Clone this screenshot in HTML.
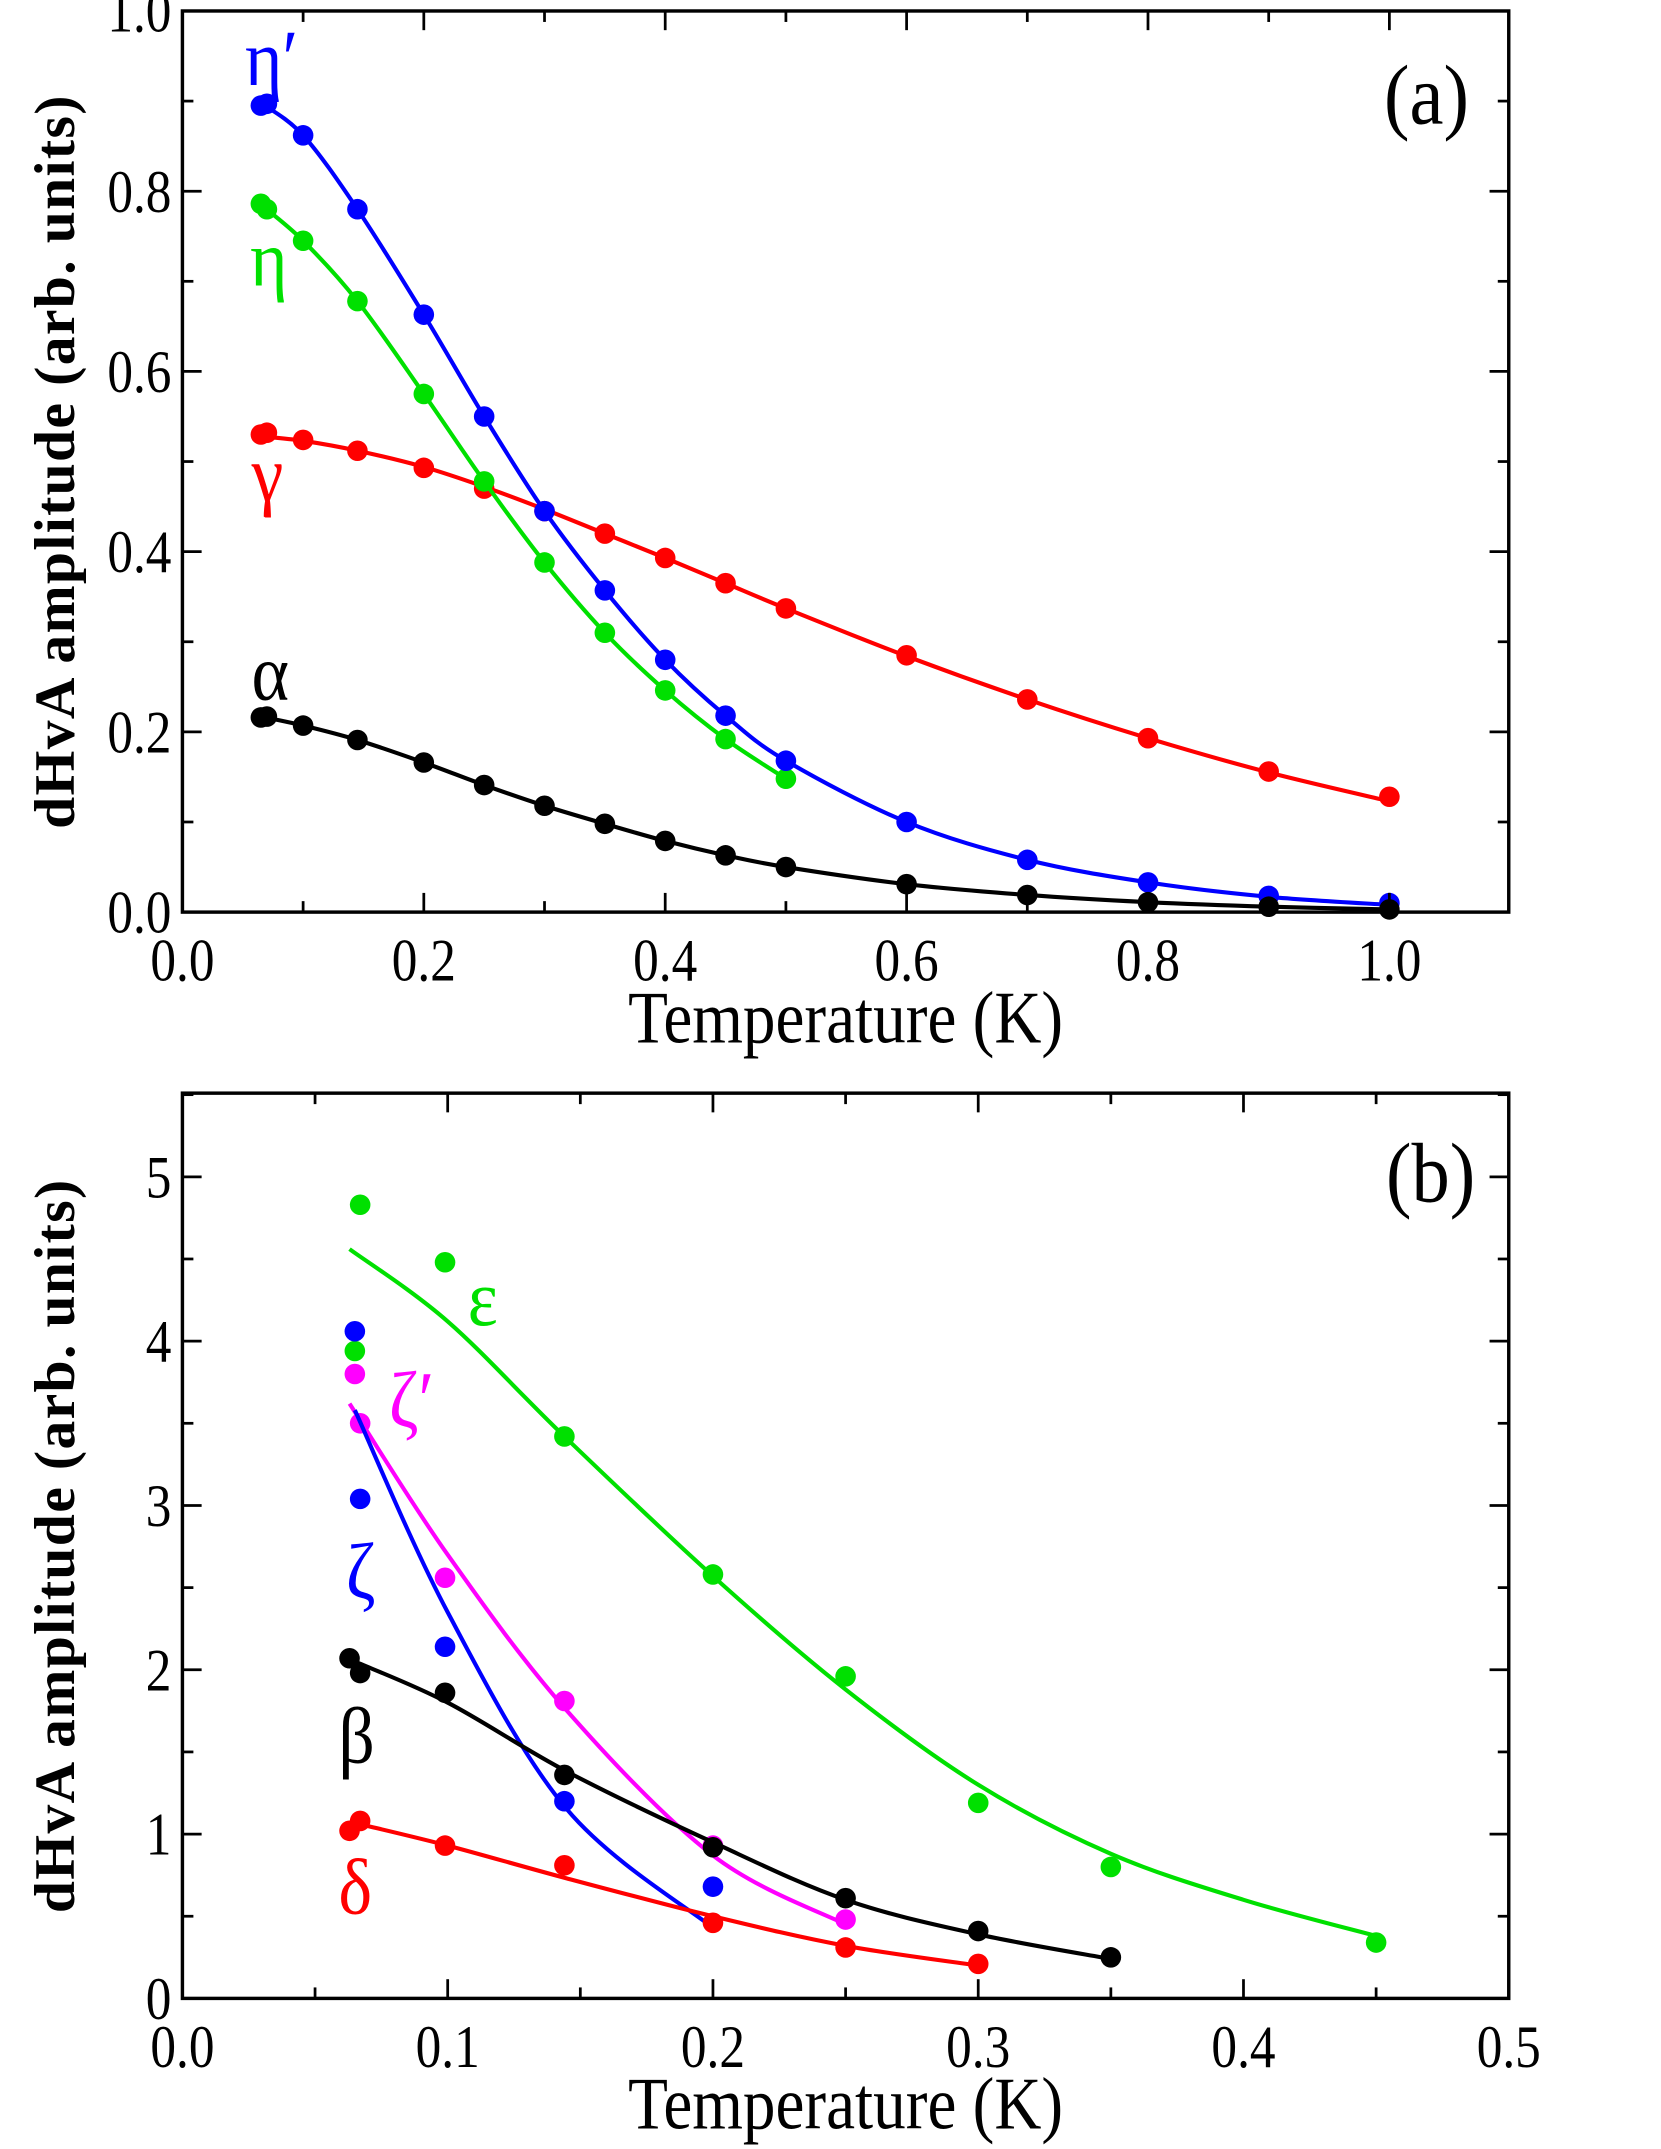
<!DOCTYPE html>
<html><head><meta charset="utf-8"><style>html,body{margin:0;padding:0;background:#fff}svg{display:block}</style></head>
<body>
<svg id="s" width="1661" height="2149" viewBox="0 0 1211 1566.8" preserveAspectRatio="none" xmlns="http://www.w3.org/2000/svg" font-family="Liberation Serif, serif"></svg>
<script>
const S=document.getElementById('s');let h='';
function txt(x,y,t,size,col,anchor,sx,extra){sx=sx||0.85;h+=`<text transform="translate(${x},${y}) scale(${sx},1)" font-size="${size}" fill="${col||'#000'}" text-anchor="${anchor||'middle'}" ${extra||''}>${t}</text>`;}
function spline(pts){let d=`M${pts[0][0]},${pts[0][1]}`;for(let i=0;i<pts.length-1;i++){const p0=pts[i-1]||pts[i],p1=pts[i],p2=pts[i+1],p3=pts[i+2]||p2;const c1=[p1[0]+(p2[0]-p0[0])/6,p1[1]+(p2[1]-p0[1])/6],c2=[p2[0]-(p3[0]-p1[0])/6,p2[1]-(p3[1]-p1[1])/6];d+=`C${c1[0]},${c1[1]} ${c2[0]},${c2[1]} ${p2[0]},${p2[1]}`;}return d;}
function panel(P){
 const X=v=>P.x0+(v-P.xmin)/(P.xmax-P.xmin)*(P.x1-P.x0), Y=v=>P.y1-(v-P.ymin)/(P.ymax-P.ymin)*(P.y1-P.y0);
 for(const s of P.series){
  h+=`<path d="${spline(s.line.map(p=>[X(p[0]),Y(p[1])]))}" fill="none" stroke="${s.c}" stroke-width="3"/>`;
  for(const p of s.pts)h+=`<circle cx="${X(p[0])}" cy="${Y(p[1])}" r="7.5" fill="${s.c}"/>`;
 }
 for(let v=P.xmin;v<=P.xmax+1e-9;v+=P.xminor){const x=X(v);const maj=Math.abs(Math.round(v/P.xmajor)*P.xmajor-v)<1e-6;const L=maj?14:8;
  h+=`<line x1="${x}" y1="${P.y1}" x2="${x}" y2="${P.y1-L}" stroke="#000" stroke-width="2"/><line x1="${x}" y1="${P.y0}" x2="${x}" y2="${P.y0+L}" stroke="#000" stroke-width="2"/>`;
  if(maj&&v<=P.xlabmax+1e-9)txt(x,P.y1+50,v.toFixed(1),44);}
 for(let v=P.ymin;v<=P.ymax+1e-9;v+=P.yminor){const y=Y(v);const maj=Math.abs(Math.round(v/P.ymajor)*P.ymajor-v)<1e-6;const L=maj?14:8;
  h+=`<line x1="${P.x0}" y1="${y}" x2="${P.x0+L}" y2="${y}" stroke="#000" stroke-width="2"/><line x1="${P.x1}" y1="${y}" x2="${P.x1-L}" y2="${y}" stroke="#000" stroke-width="2"/>`;
  if(maj&&v<=P.ylabmax+1e-9)txt(P.x0-8,y+15,P.yfmt(v),44,'#000','end');}
 h+=`<rect x="${P.x0}" y="${P.y0}" width="${P.x1-P.x0}" height="${P.y1-P.y0}" fill="none" stroke="#000" stroke-width="2.5"/>`;
 txt((P.x0+P.x1)/2,P.y1+95,'Temperature (K)',54,'#000','middle',0.88);
 h+=`<text transform="translate(54,${(P.y0+P.y1)/2}) rotate(-90)" font-size="42" font-weight="bold" text-anchor="middle" letter-spacing="1" font-family="Liberation Serif, serif">dHvA amplitude (arb. units)</text>`;
 for(const l of P.labels)txt(l[0],l[1],l[2],l[4]||58,l[3],'middle',0.9);
}
panel({x0:133,x1:1100,y0:8,y1:665,xmin:0,xmax:1.0989,ymin:0,ymax:1,xminor:0.1,xmajor:0.2,yminor:0.1,ymajor:0.2,xlabmax:1.0,ylabmax:1.0,yfmt:v=>v.toFixed(1),
 series:[
 {c:'#ff0000',pts:[[.065,.53],[.07,.532],[.1,.524],[.145,.512],[.2,.493],[.25,.47],[.3,.445],[.35,.42],[.4,.393],[.45,.365],[.5,.337],[.6,.285],[.7,.236],[.8,.193],[.9,.156],[1,.128]],line:[[.065,.528],[.1,.523],[.145,.512],[.2,.494],[.25,.472],[.3,.447],[.35,.42],[.4,.393],[.45,.365],[.5,.337],[.6,.284],[.7,.236],[.8,.193],[.9,.155],[1,.123]]},
 {c:'#00e000',pts:[[.065,.786],[.07,.78],[.1,.745],[.145,.678],[.2,.575],[.25,.478],[.3,.388],[.35,.31],[.4,.246],[.45,.192],[.5,.148]],line:[[.065,.785],[.1,.745],[.145,.678],[.2,.575],[.25,.478],[.3,.388],[.35,.31],[.4,.246],[.45,.192],[.5,.148]]},
 {c:'#0000ff',pts:[[.065,.895],[.07,.897],[.1,.862],[.145,.78],[.2,.663],[.25,.55],[.3,.445],[.35,.357],[.4,.28],[.45,.218],[.5,.168],[.6,.1],[.7,.058],[.8,.033],[.9,.018],[1,.01]],line:[[.065,.898],[.1,.862],[.145,.78],[.2,.663],[.25,.55],[.3,.445],[.35,.357],[.4,.28],[.45,.218],[.5,.168],[.6,.1],[.7,.058],[.8,.033],[.9,.017],[1,.008]]},
 {c:'#000000',pts:[[.065,.216],[.07,.217],[.1,.207],[.145,.191],[.2,.166],[.25,.141],[.3,.118],[.35,.098],[.4,.079],[.45,.063],[.5,.05],[.6,.031],[.7,.019],[.8,.011],[.9,.006],[1,.003]],line:[[.065,.217],[.1,.207],[.145,.191],[.2,.166],[.25,.141],[.3,.118],[.35,.098],[.4,.079],[.45,.063],[.5,.05],[.6,.031],[.7,.019],[.8,.011],[.9,.006],[1,.003]]}],
 labels:[[198,62,'η′','#0000ff'],[196,208,'η','#00e000'],[195,365,'γ','#ff0000'],[197,510,'α','#000'],[1040,90,'(a)','#000',62]]});
panel({x0:133,x1:1100,y0:797,y1:1457,xmin:0,xmax:0.5,ymin:0,ymax:5.5092,xminor:0.05,xmajor:0.1,yminor:0.5,ymajor:1,xlabmax:0.5,ylabmax:5,yfmt:v=>v.toFixed(0),
 series:[
 {c:'#00e000',pts:[[.065,3.94],[.067,4.83],[.099,4.48],[.144,3.42],[.2,2.58],[.25,1.96],[.3,1.19],[.35,.8],[.45,.34]],line:[[.063,4.56],[.1,4.12],[.144,3.42],[.2,2.57],[.25,1.88],[.3,1.3],[.35,.88],[.4,.6],[.45,.38]]},
 {c:'#ff00ff',pts:[[.065,3.8],[.067,3.5],[.099,2.56],[.144,1.81],[.2,.93],[.25,.48]],line:[[.063,3.62],[.1,2.7],[.145,1.75],[.2,.87],[.25,.45]]},
 {c:'#0000ff',pts:[[.065,4.06],[.067,3.04],[.099,2.14],[.144,1.2],[.2,.68]],line:[[.065,3.58],[.1,2.35],[.145,1.15],[.2,.43]]},
 {c:'#000000',pts:[[.063,2.07],[.067,1.98],[.099,1.86],[.144,1.36],[.2,.92],[.25,.61],[.3,.41],[.35,.25]],line:[[.065,2.05],[.1,1.8],[.145,1.38],[.2,.95],[.25,.6],[.3,.39],[.35,.24]]},
 {c:'#ff0000',pts:[[.063,1.02],[.067,1.08],[.099,.93],[.144,.81],[.2,.46],[.25,.31],[.3,.21]],line:[[.067,1.06],[.1,.93],[.145,.73],[.2,.5],[.25,.32],[.3,.2]]}],
 labels:[[352,966,'ε','#00e000'],[300,1040,'ζ′','#ff00ff'],[263,1165,'ζ','#0000ff'],[260,1285,'β','#000'],[259,1395,'δ','#ff0000'],[1043,876,'(b)','#000',62]]});
S.innerHTML=h;
</script>
</body></html>
